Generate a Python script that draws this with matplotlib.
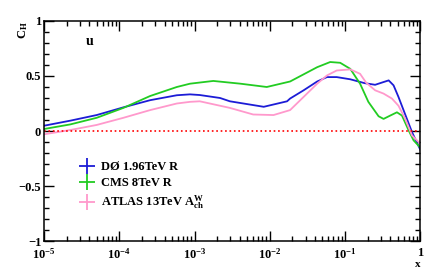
import numpy as np
import matplotlib
matplotlib.use("Agg")
import matplotlib.pyplot as plt
from matplotlib.lines import Line2D
from matplotlib.ticker import FixedLocator, FixedFormatter, LogLocator, MultipleLocator

plt.rcParams['font.family'] = ['Liberation Serif', 'DejaVu Serif']
plt.rcParams['font.weight'] = 'bold'
plt.rcParams['mathtext.fontset'] = 'custom'
plt.rcParams['mathtext.rm'] = 'Liberation Serif:bold'
plt.rcParams['mathtext.it'] = 'Liberation Serif:bold'
plt.rcParams['mathtext.bf'] = 'Liberation Serif:bold'

# log10(x) positions and C_H values
d0_logx = [-5.0, -4.65, -4.30, -3.945, -3.59, -3.235, -3.06, -2.93, -2.66, -2.53,
           -2.08, -1.77, -1.73, -1.55, -1.37, -1.24, -1.11, -0.93, -0.74, -0.60,
           -0.488, -0.42, -0.355, -0.29, -0.20, -0.11, 0.0]
d0_ch = [0.048, 0.094, 0.145, 0.215, 0.28, 0.325, 0.333, 0.327, 0.30, 0.27,
         0.22, 0.27, 0.295, 0.37, 0.45, 0.49, 0.49, 0.47, 0.435, 0.42,
         0.445, 0.46, 0.415, 0.31, 0.15, -0.01, -0.17]

cms_logx = [-5.0, -4.65, -4.30, -3.945, -3.59, -3.235, -3.06, -2.75, -2.39, -2.04,
            -1.73, -1.55, -1.37, -1.197, -1.064, -0.93, -0.80, -0.69, -0.554, -0.488,
            -0.40, -0.31, -0.243, -0.155, -0.089, 0.0]
cms_ch = [0.018, 0.06, 0.12, 0.21, 0.318, 0.40, 0.43, 0.455, 0.43, 0.40,
          0.45, 0.515, 0.58, 0.627, 0.62, 0.565, 0.43, 0.265, 0.134, 0.11,
          0.14, 0.17, 0.14, 0.006, -0.085, -0.15]

atlas_logx = [-5.0, -4.65, -4.30, -3.945, -3.59, -3.235, -3.06, -2.93, -2.53, -2.22,
              -1.95, -1.73, -1.55, -1.37, -1.24, -1.11, -0.93, -0.80, -0.72, -0.60,
              -0.488, -0.377, -0.29, -0.20, -0.11, 0.0]
atlas_ch = [-0.03, 0.009, 0.055, 0.12, 0.19, 0.25, 0.265, 0.27, 0.21, 0.15,
            0.145, 0.19, 0.31, 0.43, 0.505, 0.55, 0.56, 0.52, 0.44, 0.37,
            0.34, 0.295, 0.23, 0.11, -0.04, -0.115]

labels = ['DØ 1.96TeV R', 'CMS 8TeV R', r'ATLAS 13TeV A$_{ch}^{W}$']
colors = ['#1c1cd6', '#22cc22', '#ff99cc']

xtick_vals = [1e-5, 1e-4, 1e-3, 1e-2, 1e-1, 1]
xtick_labels = [r'$10^{-5}$', r'$10^{-4}$', r'$10^{-3}$', r'$10^{-2}$', r'$10^{-1}$', '1']

fig = plt.figure(figsize=(4.43, 2.69), dpi=100)
ax = fig.add_axes([0.0993, 0.104, 0.8494, 0.818])

series = [(d0_logx, d0_ch), (cms_logx, cms_ch), (atlas_logx, atlas_ch)]
for (lx, ch), c in zip(series, colors):
    ax.plot(10 ** np.array(lx), ch, color=c, lw=1.3)

ax.axhline(0, color='red', ls=':', lw=1.2)

ax.set_xscale('log')
ax.set_xlim(1e-5, 1)
ax.set_ylim(-1, 1)

ax.xaxis.set_major_locator(FixedLocator(xtick_vals))
ax.xaxis.set_major_formatter(FixedFormatter(xtick_labels))
ax.xaxis.set_minor_locator(LogLocator(base=10, subs=np.arange(2, 10), numticks=20))
ax.xaxis.set_minor_formatter(FixedFormatter([]))
ax.yaxis.set_minor_locator(MultipleLocator(0.1))
ax.set_yticks([-1, -0.5, 0, 0.5, 1])
ax.set_yticklabels(['\u22121', '\u22120.5', '0', '0.5', '1'])

ax.tick_params(which='both', direction='in', top=True, right=True, labelsize=9, width=1)
ax.tick_params(which='major', length=7.5)
ax.tick_params(which='minor', length=3.5)
ax.tick_params(axis='x', pad=4.5)
ax.tick_params(axis='y', pad=2)
for s in ax.spines.values():
    s.set_linewidth(1.1)

ax.text(0.11, 0.905, 'u', transform=ax.transAxes, fontsize=10, fontweight='bold',
        va='center', ha='left')

fig.text(23 / 443, 1 - 21 / 269, r'C$_{H}$', rotation=90, ha='center', va='top', fontsize=9)
fig.text(421 / 443, 0.0, 'x', ha='right', va='bottom', fontsize=8)

handles = [Line2D([], [], color=c, marker='+', ls='none', markersize=12, markeredgewidth=1.3)
           for c in colors]
ax.legend(handles, labels, loc='upper left', bbox_to_anchor=(0.065, 0.415), frameon=False,
          fontsize=9, handlelength=1.2, handletextpad=0.5, labelspacing=0.35)

fig.savefig('out.png', dpi=100)
